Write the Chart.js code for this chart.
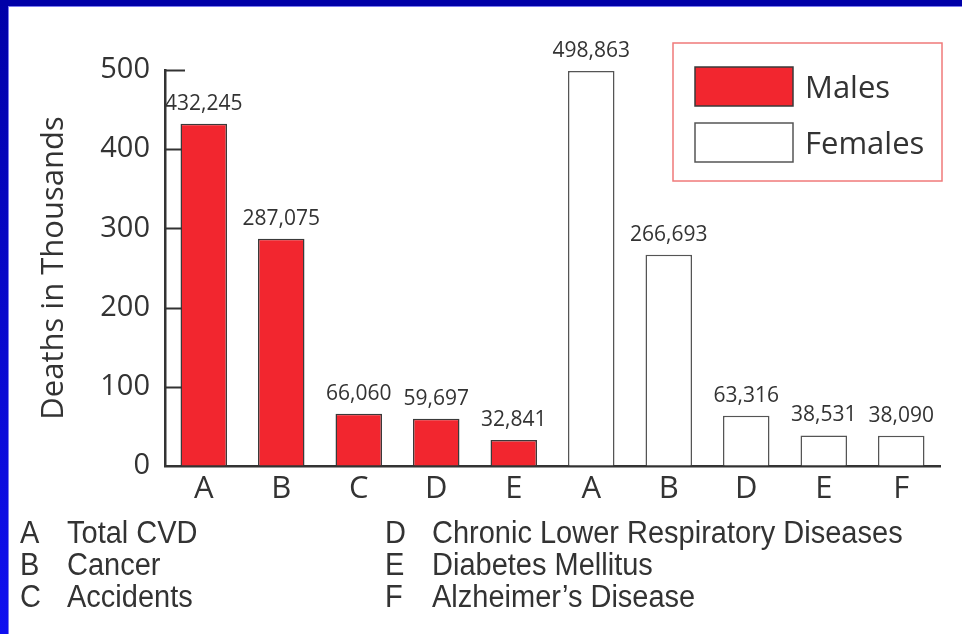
<!DOCTYPE html>
<html lang="en">
<head>
  <meta charset="UTF-8" />
  <title>Leading Causes of Death by Sex</title>
  <script src="https://cdn.jsdelivr.net/npm/chart.js"></script>
  <style>
    html, body { margin: 0; padding: 0; background: #fff; }
    .wrap { position: relative; width: 962px; height: 634px; overflow: hidden; }
    canvas { position: absolute; left: 0; top: 0; }
    .key { position: absolute; font-family: "Liberation Sans", Arial, sans-serif; font-size: 29px; color: #333;
           line-height: 29px; transform: scaleY(1.1); transform-origin: 0 0; white-space: nowrap; }
    .key span { display: inline-block; width: 47px; }
  </style>
</head>
<body>
  <div class="wrap">
    <canvas id="deathChart" width="962" height="634"></canvas>
    <div class="key" id="keyLeft" style="left:20px; top:517px;"></div>
    <div class="key" id="keyRight" style="left:385px; top:517px;"></div>
  </div>

  <script>
    // categories along the x axis (males A-E, then females A,B,D,E,F)
    const categories = ['A', 'B', 'C', 'D', 'E', 'A', 'B', 'D', 'E', 'F'];
    // deaths per cause, null where that sex has no bar
    const maleDeaths   = [432245, 287075, 66060, 59697, 32841, null, null, null, null, null];
    const femaleDeaths = [null, null, null, null, null, 498863, 266693, 63316, 38531, 38090];
    const yTicks = [0, 100, 200, 300, 400, 500];
    const keyLeft  = [['A', 'Total CVD'], ['B', 'Cancer'], ['C', 'Accidents']];
    const keyRight = [['D', 'Chronic Lower Respiratory Diseases'], ['E', 'Diabetes Mellitus'], ['F', 'Alzheimer\u2019s Disease']];

    function fillKey(id, rows) {
      document.getElementById(id).innerHTML = rows
        .map(r => '<div><span>' + r[0] + '</span>' + r[1] + '</div>').join('');
    }
    fillKey('keyLeft', keyLeft);
    fillKey('keyRight', keyRight);

    const thousands = arr => arr.map(v => v === null ? null : v / 1000);
    const mainFont = '"Open Sans", "Noto Sans", sans-serif';

    // blue slide frame on top and left edge
    const framePlugin = {
      id: 'frame',
      beforeDraw(chart) {
        const ctx = chart.ctx;
        ctx.save();
        ctx.fillStyle = '#fff';
        ctx.fillRect(0, 0, chart.width, chart.height);
        const g = ctx.createLinearGradient(0, 0, 0, chart.height);
        g.addColorStop(0, '#0000a8');
        g.addColorStop(1, '#1010f0');
        ctx.fillStyle = g;
        ctx.fillRect(0, 0, 8, chart.height);
        ctx.fillStyle = '#0000a8';
        ctx.fillRect(0, 0, chart.width, 6);
        ctx.fillStyle = '#7c7cf0';
        ctx.fillRect(8, 6, 1, chart.height);
        ctx.fillRect(8, 6, chart.width, 1);
        ctx.restore();
      }
    };

    // inward ticks, value labels and the boxed legend
    const extrasPlugin = {
      id: 'extras',
      afterDraw(chart) {
        const ctx = chart.ctx;
        const y = chart.scales.y;
        const area = chart.chartArea;
        ctx.save();
        ctx.strokeStyle = '#333';
        ctx.lineWidth = 2;
        yTicks.slice(1).forEach(v => {
          const py = Math.round(y.getPixelForValue(v)) + 0.5;
          ctx.beginPath();
          ctx.moveTo(area.left - 1, py);
          ctx.lineTo(area.left + (v === 500 ? 20 : 17), py);
          ctx.stroke();
        });

        ctx.fillStyle = '#333';
        ctx.font = '21px ' + mainFont;
        ctx.textAlign = 'center';
        ctx.textBaseline = 'alphabetic';
        chart.data.datasets.forEach((ds, i) => {
          const meta = chart.getDatasetMeta(i);
          meta.data.forEach((bar, j) => {
            const raw = ds.raw[j];
            if (raw === null) return;
            ctx.fillText(raw.toLocaleString('en-US'), bar.x, bar.y - 14);
          });
        });

        // legend box
        ctx.strokeStyle = '#f07a7a';
        ctx.lineWidth = 1.5;
        ctx.strokeRect(673, 43, 269, 138);
        chart.data.datasets.forEach((ds, i) => {
          const top = i === 0 ? 67 : 123;
          ctx.fillStyle = ds.backgroundColor;
          ctx.fillRect(695, top, 98, 39);
          ctx.strokeStyle = ds.borderColor;
          ctx.lineWidth = 1.5;
          ctx.strokeRect(695, top, 98, 39);
          ctx.fillStyle = '#333';
          ctx.font = '31px ' + mainFont;
          ctx.textAlign = 'left';
          ctx.textBaseline = 'middle';
          ctx.fillText(ds.label, 805, top + 22);
        });
        ctx.restore();
      }
    };

    new Chart(document.getElementById('deathChart'), {
      type: 'bar',
      data: {
        labels: categories,
        datasets: [
          {
            label: 'Males',
            data: thousands(maleDeaths),
            raw: maleDeaths,
            backgroundColor: '#f2262f',
            borderColor: '#3a3a3a',
            borderWidth: 1.5,
            grouped: false
          },
          {
            label: 'Females',
            data: thousands(femaleDeaths),
            raw: femaleDeaths,
            backgroundColor: '#ffffff',
            borderColor: '#555',
            borderWidth: 1.5,
            grouped: false
          }
        ]
      },
      options: {
        responsive: false,
        animation: false,
        layout: { padding: { left: 0, top: 70, right: 22, bottom: 118 } },
        datasets: { bar: { categoryPercentage: 1, barPercentage: 0.6 } },
        plugins: { legend: { display: false }, tooltip: { enabled: false } },
        scales: {
          x: {
            grid: { color: 'transparent', drawTicks: false },
            border: { color: '#333', width: 2.5 },
            ticks: { color: '#333', font: { family: mainFont, size: 31 }, padding: 5 },
            afterFit(scale) { scale.height = 50; }
          },
          y: {
            min: 0,
            max: 500,
            grid: { color: 'transparent', drawTicks: false },
            border: { color: '#333', width: 2.5 },
            ticks: {
              stepSize: 100,
              color: '#333',
              padding: 15,
              font: { family: mainFont, size: 29 }
            },
            title: {
              display: true,
              text: 'Deaths in Thousands',
              color: '#333',
              padding: { top: 36, bottom: 0 },
              font: { family: mainFont, size: 31 }
            },
            afterFit(scale) { scale.width = 165; }
          }
        }
      },
      plugins: [framePlugin, extrasPlugin]
    });
  </script>
</body>
</html>
